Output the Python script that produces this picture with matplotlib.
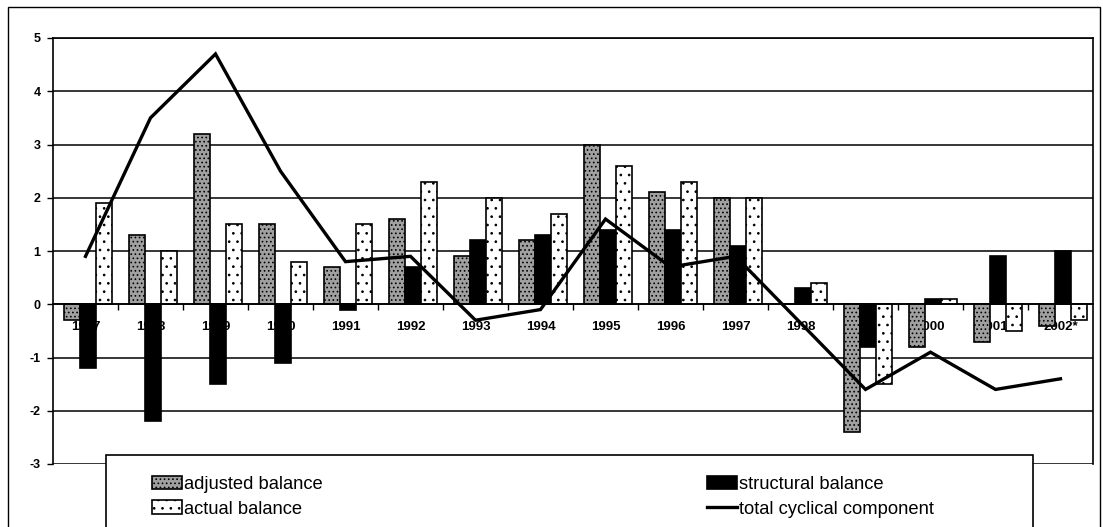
import numpy as np
import matplotlib.pyplot as plt
from matplotlib.patches import Rectangle, Patch
from matplotlib.lines import Line2D

plt.rcParams['font.family'] = ['Liberation Sans', 'DejaVu Sans']
plt.rcParams['hatch.linewidth'] = 0.7
plt.rcParams['axes.unicode_minus'] = False

# values
years = ['1987', '1988', '1989', '1990', '1991', '1992', '1993', '1994',
         '1995', '1996', '1997', '1998', '1999', '2000', '2001*', '2002*']
adjusted = [-0.3, 1.3, 3.2, 1.5, 0.7, 1.6, 0.9, 1.2, 3.0, 2.1, 2.0, 0.0, -2.4, -0.8, -0.7, -0.4]
structural = [-1.2, -2.2, -1.5, -1.1, -0.1, 0.7, 1.2, 1.3, 1.4, 1.4, 1.1, 0.3, -0.8, 0.1, 0.9, 1.0]
actual = [1.9, 1.0, 1.5, 0.8, 1.5, 2.3, 2.0, 1.7, 2.6, 2.3, 2.0, 0.4, -1.5, 0.1, -0.5, -0.3]
cyclical = [0.9, 3.5, 4.7, 2.5, 0.8, 0.9, -0.3, -0.1, 1.6, 0.7, 0.9, -0.35, -1.6, -0.9, -1.6, -1.4]

W, H = 1103, 527
fig = plt.figure(figsize=(W/100, H/100), dpi=100)
ax = fig.add_axes([53/W, 1-464/H, 1040/W, 426/H])

x = np.arange(len(years))
bw = 0.25
sh = 0.04
adj_style = dict(facecolor='#a0a0a0', edgecolor='black', hatch='....', linewidth=1.2)
str_style = dict(facecolor='black', edgecolor='black', linewidth=1.2)
act_style = dict(facecolor='white', edgecolor='black', hatch='..', linewidth=1.2)

ax.bar(x - bw + sh, adjusted, bw, zorder=2, **adj_style)
ax.bar(x + sh, structural, bw, zorder=2, **str_style)
ax.bar(x + bw + sh, actual, bw, zorder=2, **act_style)
ax.plot(x, cyclical, color='black', lw=2.4, zorder=3, solid_joinstyle='miter')

for i, yr in enumerate(years):
    ax.text(i, -0.42, yr, ha='center', va='center', fontsize=9.5,
            fontweight='bold', zorder=1)

ax.set_xlim(-0.5, len(years) - 0.5)
ax.set_ylim(-3, 5)
ax.set_yticks(range(-3, 6))
ax.yaxis.grid(True, color='black', lw=1.1)
ax.set_axisbelow(True)
ax.set_xticks(np.arange(0.5, len(years) - 0.5, 1))
ax.set_xticklabels([])
ax.spines['bottom'].set_position(('data', 0))
for s in ax.spines.values():
    s.set_linewidth(1.2)
ax.tick_params(axis='x', direction='out', length=4, width=1)
ax.tick_params(axis='y', direction='out', length=4, width=1, pad=5, labelsize=9)
for lbl in ax.get_yticklabels():
    lbl.set_fontweight('bold')

# outer frame and legend box
fig.patches.append(Rectangle((8/W, -0.01), (1100-8)/W, (H-7)/H + 0.01, transform=fig.transFigure,
                             fill=False, edgecolor='black', lw=1.0, zorder=10))
fig.patches.append(Rectangle((106/W, -0.05), (1033-106)/W, (H-455)/H + 0.05, transform=fig.transFigure,
                             facecolor='white', edgecolor='black', lw=1.2, zorder=5))

h_adj = Patch(label='adjusted balance', **adj_style)
h_act = Patch(label='actual balance', **act_style)
h_str = Patch(label='structural balance', **str_style)
h_cyc = Line2D([], [], color='black', lw=2.4, label='total cyclical component')

leg_kw = dict(loc='upper left', frameon=False, fontsize=13.2, handlelength=1.65, handleheight=0.75,
              handletextpad=0.12, labelspacing=0.4, borderaxespad=0, borderpad=0)
leg1 = fig.legend(handles=[h_adj, h_act], bbox_to_anchor=(152/W, 1-476/H), **leg_kw)
leg2 = fig.legend(handles=[h_str, h_cyc], bbox_to_anchor=(707/W, 1-476/H), **leg_kw)
leg1.set_zorder(6)
leg2.set_zorder(6)

fig.savefig('out.png', dpi=100)
